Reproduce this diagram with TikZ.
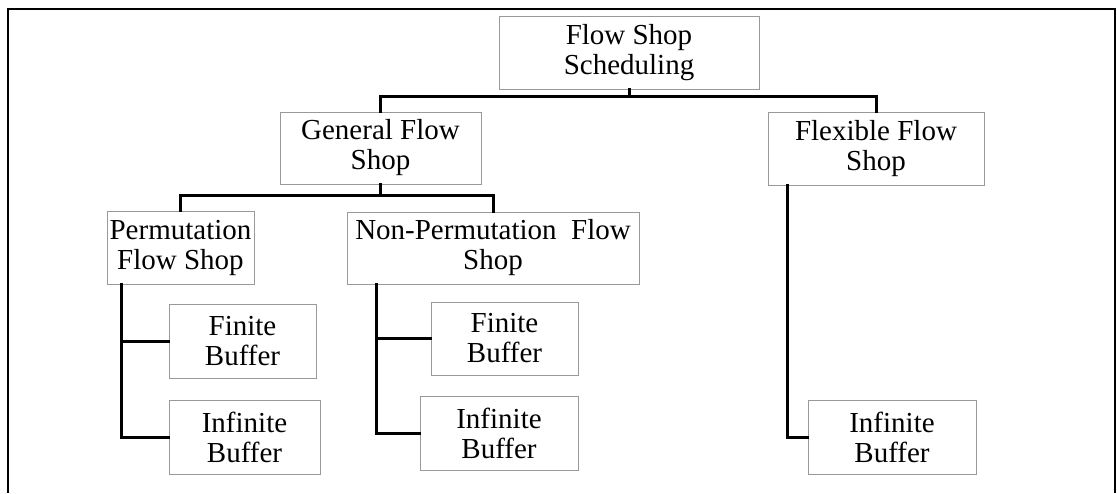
\documentclass[tikz,border=0pt]{standalone}
\usepackage{fontspec}
\setmainfont{Liberation Serif}
\usetikzlibrary{positioning}

\begin{document}
\begin{tikzpicture}[x=1pt, y=-1pt,
    every node/.style={font=\fontsize{29}{30}\selectfont},
    fsbox/.style={draw=gray!80, line width=0.9pt, rectangle, align=center, inner sep=0pt},
    link/.style={line width=3pt, line cap=rect}]
    \useasboundingbox (0,0) rectangle (1117,493);
    % Outer frame (open at the bottom)
    \draw[line width=2pt] (8,493) -- (8,9) -- (1115,9) -- (1115,493);

    % Root
    \node[fsbox, minimum width=260, minimum height=73] (root) at (629,52.5) {Flow Shop\\Scheduling};

    % Second level
    \node[fsbox, minimum width=201, minimum height=72] (general) at (380.5,148) {General Flow\\Shop};
    \node[fsbox, minimum width=216, minimum height=73] (flexible) at (876,148.5) {Flexible Flow\\Shop};

    % Third level
    \node[fsbox, minimum width=147, minimum height=73] (perm) at (180.5,247.5) {Permutation\\Flow Shop};
    \node[fsbox, minimum width=292, minimum height=72] (nonperm) at (493,248) {Non-Permutation\ \ Flow\\Shop};

    % Buffers
    \node[fsbox, minimum width=147, minimum height=74] (permfin) at (242.5,341) {Finite\\Buffer};
    \node[fsbox, minimum width=151, minimum height=74] (perminf) at (244.5,437) {Infinite\\Buffer};
    \node[fsbox, minimum width=147, minimum height=73] (nonpermfin) at (504.5,338.5) {Finite\\Buffer};
    \node[fsbox, minimum width=158, minimum height=74] (nonperminf) at (499,433) {Infinite\\Buffer};
    \node[fsbox, minimum width=168, minimum height=74] (flexinf) at (892,437) {Infinite\\Buffer};

    % Tree links
    \draw[link] (root.south) -- ++(0,7) -| (general.north);
    \draw[link] (root.south) -- ++(0,7) -| (flexible.north);
    \draw[link] (general.south) -- ++(0,11) -| (perm.north);
    \draw[link] (general.south) -- ++(0,11) -| (nonperm.north);

    % Buffer links
    \draw[link] ([xshift=15]perm.south west) |- (permfin.west);
    \draw[link] ([xshift=15]perm.south west) |- (perminf.west);
    \draw[link] ([xshift=30]nonperm.south west) |- (nonpermfin.west);
    \draw[link] ([xshift=30]nonperm.south west) |- (nonperminf.west);
    \draw[link] ([xshift=20]flexible.south west) |- (flexinf.west);
\end{tikzpicture}
\end{document}
